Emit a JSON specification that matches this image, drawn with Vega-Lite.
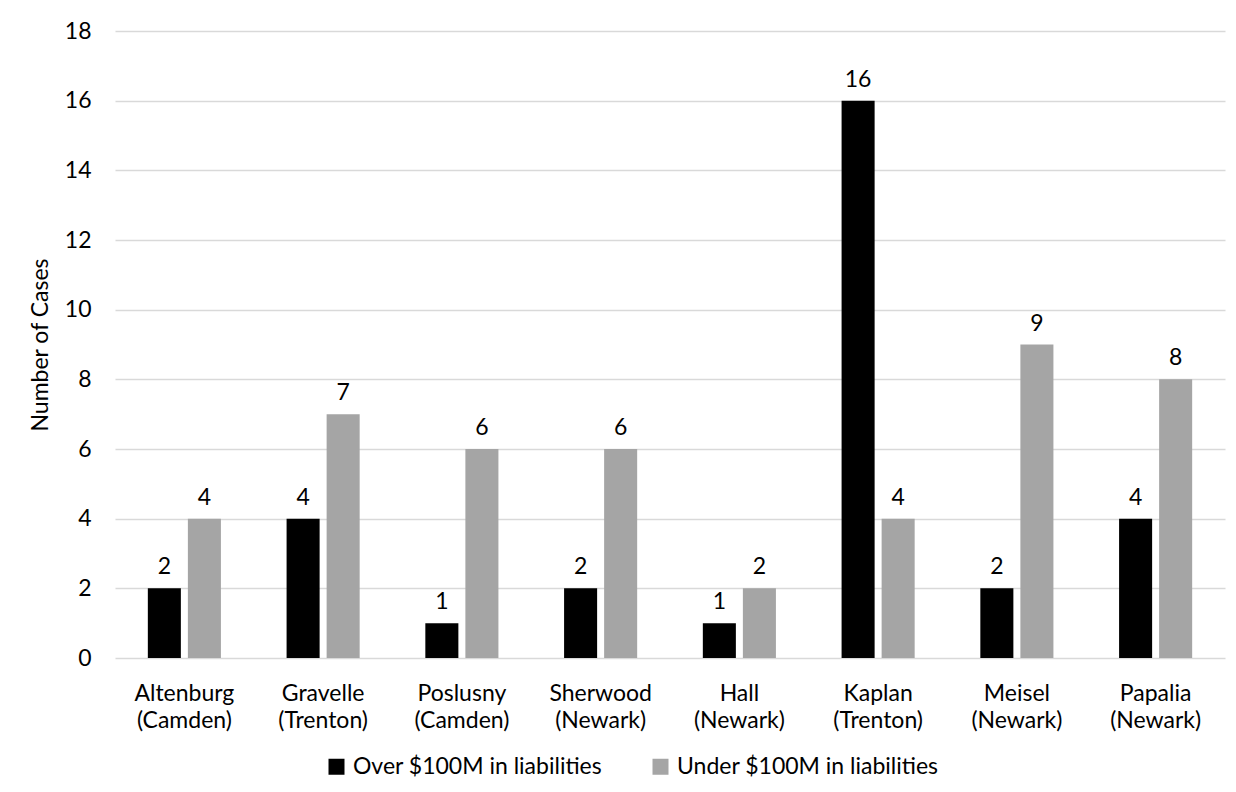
{
  "$schema": "https://vega.github.io/schema/vega-lite/v6.json",
  "width": 1110,
  "height": 627,
  "autosize": {"type": "none"},
  "padding": {"left": 115, "top": 31, "right": 11, "bottom": 134},
  "background": "white",
  "config": {
    "view": {"stroke": null},
    "font": "Lato",
    "axis": {"labelFont": "Lato", "titleFont": "Lato", "labelColor": "#000000", "titleColor": "#000000"}
  },
  "data": {
    "values": [
      {"judge": "Altenburg (Camden)", "group": "Over $100M in liabilities", "cases": 2},
      {"judge": "Altenburg (Camden)", "group": "Under $100M in liabilities", "cases": 4},
      {"judge": "Gravelle (Trenton)", "group": "Over $100M in liabilities", "cases": 4},
      {"judge": "Gravelle (Trenton)", "group": "Under $100M in liabilities", "cases": 7},
      {"judge": "Poslusny (Camden)", "group": "Over $100M in liabilities", "cases": 1},
      {"judge": "Poslusny (Camden)", "group": "Under $100M in liabilities", "cases": 6},
      {"judge": "Sherwood (Newark)", "group": "Over $100M in liabilities", "cases": 2},
      {"judge": "Sherwood (Newark)", "group": "Under $100M in liabilities", "cases": 6},
      {"judge": "Hall (Newark)", "group": "Over $100M in liabilities", "cases": 1},
      {"judge": "Hall (Newark)", "group": "Under $100M in liabilities", "cases": 2},
      {"judge": "Kaplan (Trenton)", "group": "Over $100M in liabilities", "cases": 16},
      {"judge": "Kaplan (Trenton)", "group": "Under $100M in liabilities", "cases": 4},
      {"judge": "Meisel (Newark)", "group": "Over $100M in liabilities", "cases": 2},
      {"judge": "Meisel (Newark)", "group": "Under $100M in liabilities", "cases": 9},
      {"judge": "Papalia (Newark)", "group": "Over $100M in liabilities", "cases": 4},
      {"judge": "Papalia (Newark)", "group": "Under $100M in liabilities", "cases": 8}
    ]
  },
  "encoding": {
    "x": {
      "field": "judge",
      "type": "nominal",
      "sort": null,
      "scale": {"paddingInner": 0, "paddingOuter": 0},
      "axis": {
        "title": null,
        "labelAngle": 0,
        "labelExpr": "split(datum.label, ' ')",
        "labelFontSize": 23,
        "labelLineHeight": 27,
        "labelPadding": 24,
        "ticks": false,
        "domain": false,
        "grid": false
      }
    },
    "xOffset": {
      "field": "group",
      "type": "nominal",
      "scale": {"paddingInner": 0.175, "paddingOuter": 0.82}
    },
    "y": {
      "field": "cases",
      "type": "quantitative",
      "scale": {"domain": [0, 18]},
      "axis": {
        "title": "Number of Cases",
        "titleFontSize": 23,
        "titleFontWeight": "normal",
        "titlePadding": 12,
        "values": [0, 2, 4, 6, 8, 10, 12, 14, 16, 18],
        "labelFontSize": 23,
        "labelPadding": 24,
        "ticks": false,
        "domain": false,
        "grid": true,
        "gridColor": "#d9d9d9",
        "gridWidth": 1.5
      }
    }
  },
  "layer": [
    {
      "mark": {"type": "bar"},
      "encoding": {
        "color": {
          "field": "group",
          "type": "nominal",
          "scale": {"domain": ["Over $100M in liabilities", "Under $100M in liabilities"], "range": ["#000000", "#a5a5a5"]},
          "legend": {
            "title": null,
            "orient": "none",
            "legendX": 210,
            "legendY": 724,
            "direction": "horizontal",
            "symbolType": "square",
            "symbolSize": 256,
            "symbolStrokeWidth": 0,
            "labelFontSize": 23,
            "labelFont": "Lato",
            "labelColor": "#000000",
            "labelOffset": 5,
            "columnPadding": 46,
            "labelLimit": 400
          }
        }
      }
    },
    {
      "mark": {"type": "text", "baseline": "bottom", "dy": -9, "fontSize": 23, "font": "Lato", "color": "#000000"},
      "encoding": {
        "text": {"field": "cases", "type": "quantitative"}
      }
    }
  ]
}
